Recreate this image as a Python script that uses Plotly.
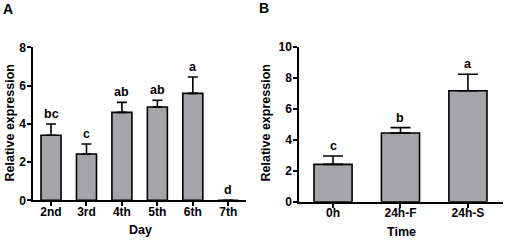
import plotly.graph_objects as go

# Panel A data
days = ["2nd", "3rd", "4th", "5th", "6th", "7th"]
day_values = [3.40, 2.42, 4.60, 4.88, 5.59, 0.0]
day_errors = [0.59, 0.52, 0.52, 0.35, 0.86, 0.0]
day_letters = ["bc", "c", "ab", "ab", "a", "d"]

# Panel B data
times = ["0h", "24h-F", "24h-S"]
time_values = [2.41, 4.43, 7.16]
time_errors = [0.54, 0.35, 1.06]
time_letters = ["c", "b", "a"]

FONT = "Liberation Sans, Arial, sans-serif"
BAR = "#a4a4a9"

fig = go.Figure()
fig.add_trace(go.Bar(
    x=days, y=day_values, xaxis="x", yaxis="y", width=0.565,
    marker=dict(color=BAR, line=dict(color="black", width=1.6)),
    error_y=dict(type="data", symmetric=False, array=day_errors,
                 arrayminus=[0] * len(days), color="black", thickness=1.6, width=5),
    showlegend=False,
))
fig.add_trace(go.Bar(
    x=times, y=time_values, xaxis="x2", yaxis="y2", width=0.565,
    marker=dict(color=BAR, line=dict(color="black", width=1.6)),
    error_y=dict(type="data", symmetric=False, array=time_errors,
                 arrayminus=[0] * len(times), color="black", thickness=1.6, width=10),
    showlegend=False,
))

lf = dict(family=FONT, size=12.5, color="#000000")
ann = []
for c, v, e, t in zip(days, day_values, day_errors, day_letters):
    ann.append(dict(x=c, y=v + e, xref="x", yref="y", text="<b>%s</b>" % t, showarrow=False,
                    xanchor="center", yanchor="bottom", yshift=1, font=lf))
for c, v, e, t in zip(times, time_values, time_errors, time_letters):
    ann.append(dict(x=c, y=v + e, xref="x2", yref="y2", text="<b>%s</b>" % t, showarrow=False,
                    xanchor="center", yanchor="bottom", yshift=1, font=lf))

bold = dict(family=FONT, size=14, color="#000000")
tf = dict(family=FONT, size=12.5, color="#000000")


def pa(x, y, text, font, angle=0):
    return dict(x=x / 505, y=1 - y / 240, xref="paper", yref="paper", text=text,
                showarrow=False, xanchor="center", yanchor="middle", textangle=angle,
                font=font)


ann += [
    pa(7.5, 9, "<b>A</b>", bold),
    pa(264, 8.5, "<b>B</b>", bold),
    pa(10, 123.5, "<b>Relative expression</b>", tf, -90),
    pa(266, 123.5, "<b>Relative expression</b>", tf, -90),
    pa(140, 229.5, "<b>Day</b>", tf),
    pa(401, 231.5, "<b>Time</b>", tf),
]

tickfont = dict(family=FONT, size=12, color="#000000", weight="bold")
axis_common = dict(showgrid=False, zeroline=False, showline=True, linecolor="black",
                   linewidth=2, ticks="outside", ticklen=4, tickwidth=2, tickcolor="black",
                   tickfont=tickfont, automargin=False)

fig.update_layout(
    width=505, height=240,
    margin=dict(l=0, r=0, t=0, b=0, autoexpand=False),
    paper_bgcolor="white", plot_bgcolor="white",
    xaxis=dict(domain=[33.3 / 505, 246 / 505], anchor="y", range=[-0.5, 5.5],
               ticklabelstandoff=-5, **axis_common),
    yaxis=dict(domain=[1 - 200.3 / 240, 1 - 47.3 / 240], anchor="x", range=[0, 8],
               tickvals=[0, 2, 4, 6, 8], ticklabelstandoff=-1, **axis_common),
    xaxis2=dict(domain=[299.3 / 505, 503 / 505], anchor="y2", range=[-0.5, 2.52],
                ticklabelstandoff=-5, **axis_common),
    yaxis2=dict(domain=[1 - 201.7 / 240, 1 - 46.7 / 240], anchor="x2", range=[0, 10],
                tickvals=[0, 2, 4, 6, 8, 10], ticklabelstandoff=-1, **axis_common),
    annotations=ann,
)

fig.write_html("out.html", config={"displayModeBar": False, "staticPlot": True},
               post_script="document.body.style.margin='0px';document.body.style.overflow='hidden';")
